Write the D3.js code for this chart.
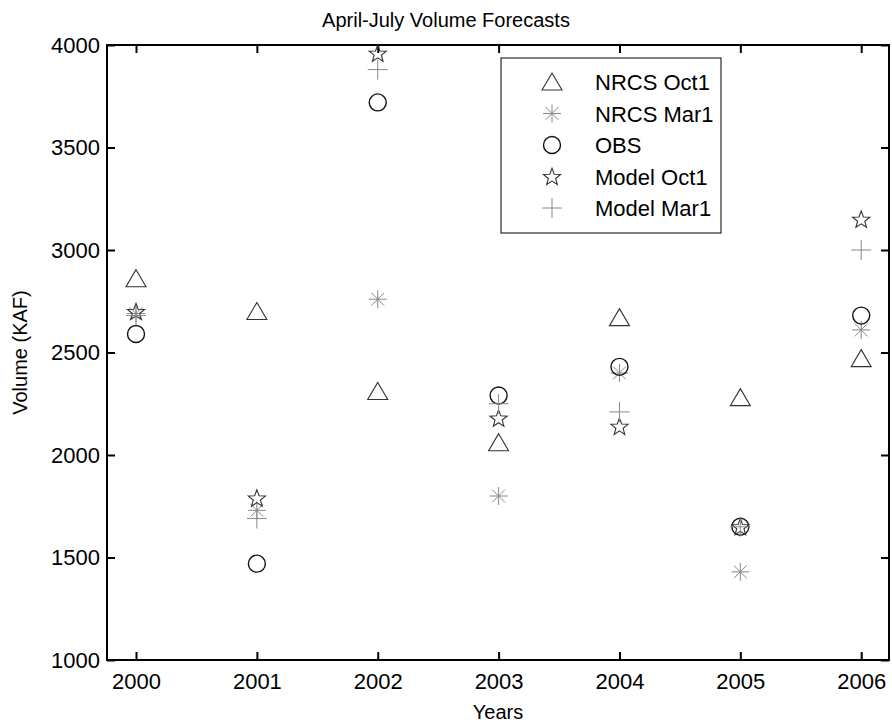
<!DOCTYPE html>
<html>
<head>
<meta charset="utf-8">
<script src="https://cdn.jsdelivr.net/npm/d3@7"></script>
<style>
  body { margin: 0; background: #fff; }
  text { font-family: "Liberation Sans", Arial, sans-serif; fill: #000; }
</style>
</head>
<body>
<svg id="chart"></svg>
<script>
// values
const YEARS = [2000, 2001, 2002, 2003, 2004, 2005, 2006];
const NRCS_OCT1 = [2860, 2700, 2310, 2060, 2670, 2280, 2470];
const NRCS_MAR1 = [2690, 1730, 2760, 1800, 2400, 1430, 2610];
const OBS = [2590, 1470, 3720, 2290, 2430, 1650, 2680];
const MODEL_OCT1 = [2700, 1790, 3960, 2180, 2140, 1650, 3150];
const MODEL_MAR1 = [2680, 1690, 3880, 2250, 2210, 1650, 3000];
const Y_TICKS = [1000, 1500, 2000, 2500, 3000, 3500, 4000];

var width = 892, height = 723;
var margin = {top: 45, right: 3, bottom: 63, left: 107};
var w = width - margin.left - margin.right;
var h = height - margin.top - margin.bottom;

var svg = d3.select("#chart").attr("width", width).attr("height", height);

var x = d3.scaleLinear().domain([1999.76, 2006.23]).range([0, w]);
var y = d3.scaleLinear().domain([1000, 4000]).range([h, 0]);

/********* marker shapes ***********/
function triangle() { return "M0,-9L10,8L-10,8Z"; }
function circle() {
  var r = 8.5;
  return "M" + r + ",0A" + r + "," + r + " 0 1,1 " + (-r) + ",0A" + r + "," + r + " 0 1,1 " + r + ",0Z";
}
function plus() { return "M-10,0H10M0,-10V10"; }
function asterisk() {
  var a = 9, b = 6.4;
  return "M-" + a + ",0H" + a + "M0,-" + a + "V" + a +
    "M-" + b + ",-" + b + "L" + b + "," + b + "M-" + b + "," + b + "L" + b + ",-" + b;
}
function star() {
  var pts = [];
  for (let i = 0; i < 10; i++) {
    var r = i % 2 == 0 ? 9 : 3.8;
    var ang = -Math.PI / 2 + i * Math.PI / 5;
    pts.push([r * Math.cos(ang), r * Math.sin(ang) + 0.8]);
  }
  return "M" + pts.map(p => p[0].toFixed(2) + "," + p[1].toFixed(2)).join("L") + "Z";
}

var series = [
  {name: "NRCS Oct1", values: NRCS_OCT1, shape: triangle, color: "#333", sw: 1.1},
  {name: "NRCS Mar1", values: NRCS_MAR1, shape: asterisk, color: "#888", sw: 1},
  {name: "OBS", values: OBS, shape: circle, color: "#111", sw: 1.4},
  {name: "Model Oct1", values: MODEL_OCT1, shape: star, color: "#333", sw: 1.1},
  {name: "Model Mar1", values: MODEL_MAR1, shape: plus, color: "#888", sw: 1}
];

var g = svg.append("g")
  .attr("transform", "translate(" + margin.left + "," + margin.top + ")");

/********* axes (box with inward ticks) ***********/
var tl = 8;
g.append("g")
  .attr("transform", "translate(0," + h + ")")
  .call(d3.axisBottom(x).tickValues(YEARS).tickFormat(d3.format("d")).tickSizeInner(-tl).tickSizeOuter(0).tickPadding(13));
g.append("g")
  .call(d3.axisTop(x).tickValues(YEARS).tickFormat("").tickSizeInner(-tl).tickSizeOuter(0));
g.append("g")
  .call(d3.axisLeft(y).tickValues(Y_TICKS).tickFormat(d3.format("d")).tickSizeInner(-tl).tickSizeOuter(0).tickPadding(7));
g.append("g")
  .attr("transform", "translate(" + w + ",0)")
  .call(d3.axisRight(y).tickValues(Y_TICKS).tickFormat("").tickSizeInner(-tl).tickSizeOuter(0));

g.selectAll(".domain").remove();
g.selectAll(".tick line").attr("stroke", "#000").attr("stroke-width", 2);
g.selectAll(".tick text").style("font-size", "22px");

g.append("rect")
  .attr("x", 0).attr("y", 0).attr("width", w).attr("height", h)
  .attr("fill", "none").attr("stroke", "#000").attr("stroke-width", 2);

/********* markers ***********/
series.forEach(function(s) {
  g.selectAll(null)
    .data(s.values)
    .enter()
    .append("path")
      .attr("d", s.shape())
      .attr("transform", (d, i) => "translate(" + x(YEARS[i]) + "," + y(d) + ")")
      .attr("fill", "none")
      .attr("stroke", s.color)
      .attr("stroke-width", s.sw);
});

/********* labels ***********/
svg.append("text")
  .attr("x", 446).attr("y", 27)
  .attr("text-anchor", "middle").style("font-size", "20px")
  .text("April-July Volume Forecasts");
svg.append("text")
  .attr("x", margin.left + w / 2).attr("y", 719)
  .attr("text-anchor", "middle").style("font-size", "20px")
  .text("Years");
svg.append("text")
  .attr("transform", "translate(27," + (margin.top + h / 2) + ") rotate(-90)")
  .attr("text-anchor", "middle").style("font-size", "20px")
  .text("Volume (KAF)");

/********* legend ***********/
var legend = svg.append("g").attr("transform", "translate(501,58)");
legend.append("rect")
  .attr("width", 220).attr("height", 175)
  .attr("fill", "#fff").attr("stroke", "#000").attr("stroke-width", 1);
var rows = legend.selectAll(".row")
  .data(series)
  .enter()
  .append("g")
    .attr("transform", (d, i) => "translate(0," + (24 + i * 31.5) + ")");
rows.append("path")
  .attr("d", d => d.shape())
  .attr("transform", "translate(51,0)")
  .attr("fill", "none")
  .attr("stroke", d => d.color)
  .attr("stroke-width", d => d.sw);
rows.append("text")
  .attr("x", 94).attr("y", 8)
  .style("font-size", "22px")
  .text(d => d.name);
</script>
</body>
</html>
